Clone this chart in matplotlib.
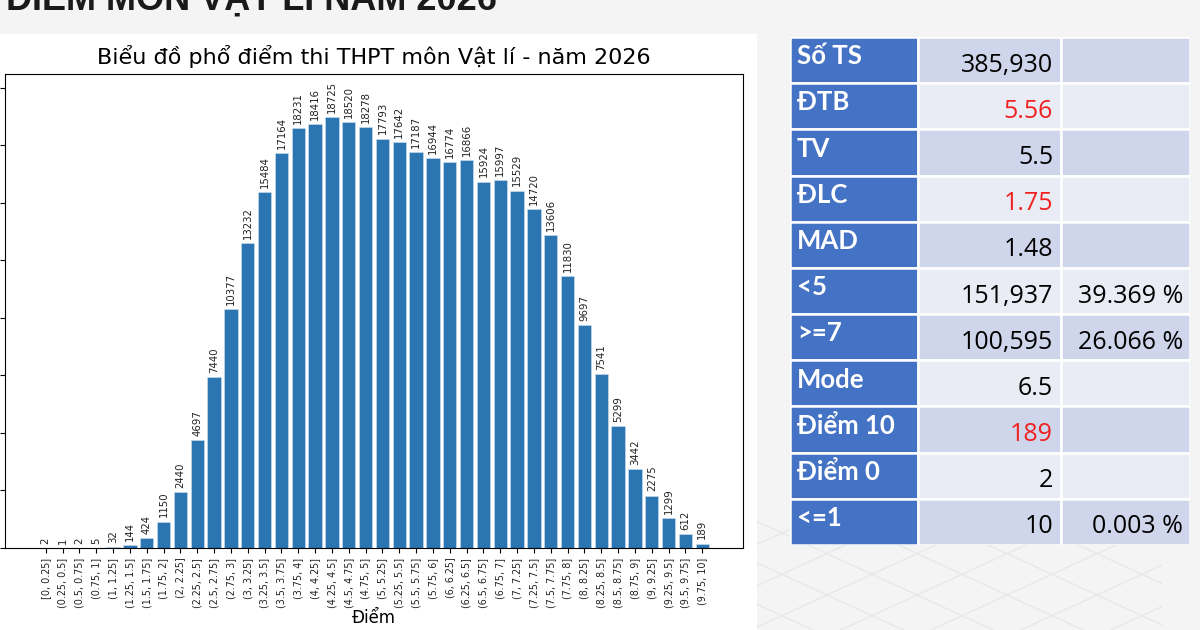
import matplotlib.pyplot as plt
from matplotlib.patches import Rectangle
from matplotlib.lines import Line2D

# Dữ liệu phổ điểm
bins = ["[0, 0.25]", "(0.25, 0.5]", "(0.5, 0.75]", "(0.75, 1]", "(1, 1.25]",
        "(1.25, 1.5]", "(1.5, 1.75]", "(1.75, 2]", "(2, 2.25]", "(2.25, 2.5]",
        "(2.5, 2.75]", "(2.75, 3]", "(3, 3.25]", "(3.25, 3.5]", "(3.5, 3.75]",
        "(3.75, 4]", "(4, 4.25]", "(4.25, 4.5]", "(4.5, 4.75]", "(4.75, 5]",
        "(5, 5.25]", "(5.25, 5.5]", "(5.5, 5.75]", "(5.75, 6]", "(6, 6.25]",
        "(6.25, 6.5]", "(6.5, 6.75]", "(6.75, 7]", "(7, 7.25]", "(7.25, 7.5]",
        "(7.5, 7.75]", "(7.75, 8]", "(8, 8.25]", "(8.25, 8.5]", "(8.5, 8.75]",
        "(8.75, 9]", "(9, 9.25]", "(9.25, 9.5]", "(9.5, 9.75]", "(9.75, 10]"]
counts = [2, 1, 2, 5, 32, 144, 424, 1150, 2440, 4697,
          7440, 10377, 13232, 15484, 17164, 18231, 18416, 18725, 18520, 18278,
          17793, 17642, 17187, 16944, 16774, 16866, 15924, 15997, 15529, 14720,
          13606, 11830, 9697, 7541, 5299, 3442, 2275, 1299, 612, 189]

# Bảng thống kê
stat_names = ["Số TS", "ĐTB", "TV", "ĐLC", "MAD", "<5", ">=7", "Mode",
              "Điểm 10", "Điểm 0", "<=1"]
stat_values = ["385,930", "5.56", "5.5", "1.75", "1.48", "151,937", "100,595",
               "6.5", "189", "2", "10"]
stat_pcts = ["", "", "", "", "", "39.369 %", "26.066 %", "", "", "", "0.003 %"]
red_rows = ["ĐTB", "ĐLC", "Điểm 10"]

W, H = 1200, 630
fig = plt.figure(figsize=(12, 6.3), dpi=100, facecolor="#f4f4f4")

# nền trang trí (lưới mờ góc dưới phải)
clip = Rectangle((757 / W, 0), 405 / W, 125 / H, transform=fig.transFigure)
for k in range(-6, 10):
    x0 = 757 + k * 90
    for y_a, y_b in ((150, -80), (-80, 150)):
        ln = Line2D([x0 / W, (x0 + 500) / W], [y_a / H, y_b / H],
                    transform=fig.transFigure, color="#e8e8e8", lw=1.0, zorder=-2)
        ln.set_clip_path(clip)
        fig.lines.append(ln)

# khung trắng chứa biểu đồ
fig.patches.append(Rectangle((0, 0), 757 / W, (H - 34) / H, transform=fig.transFigure,
                             facecolor="white", edgecolor="none", zorder=-1))

# tiêu đề lớn bị cắt ở mép trên
fig.text(497 / W, (H - 10) / H, "ĐIỂM MÔN VẬT LÍ NĂM 2026", ha="right", va="baseline",
         fontsize=26, fontweight="bold", family="Liberation Sans", color="#1a1a1a")

ax = fig.add_axes([5 / W, (H - 548) / H, 738 / W, 474 / H])
x = range(len(counts))
bars = ax.bar(x, counts, width=0.8, color="#2a75b2", edgecolor="#cfe0ef", linewidth=0.4)
ax.bar_label(bars, labels=[str(c) for c in counts], padding=3, rotation=90, fontsize=7.3,
             color="#222222")
ax.set_xticks(list(x))
ax.set_xticklabels(bins, rotation=90, fontsize=6.9, color="#222222")
ax.set_xlim(-2.42, 41.42)
ax.set_ylim(0, max(counts) * 1.1)
ax.tick_params(axis="y", labelleft=False)
ax.set_title("Biểu đồ phổ điểm thi THPT môn Vật lí - năm 2026", fontsize=16, pad=7)
ax.set_xlabel("Điểm", fontsize=12, labelpad=1)

# bảng bên phải
tb = fig.add_axes([790 / W, (H - 545) / H, 400 / W, 508 / H])
tb.set_xlim(0, 400)
tb.set_ylim(len(stat_names), 0)
tb.axis("off")
col_edges = [0, 128, 271, 400]
for i, name in enumerate(stat_names):
    light = "#cfd5ea" if i % 2 == 0 else "#e9ebf5"
    fills = ["#4472c4", light, light]
    for j in range(3):
        tb.add_patch(Rectangle((col_edges[j], i), col_edges[j + 1] - col_edges[j], 1,
                               facecolor=fills[j], edgecolor="white", linewidth=1.8))
    tb.text(7, i + 0.59, name, ha="left", va="baseline", fontsize=18.5, color="white",
            fontweight="bold", family="Lato")
    tb.text(263, i + 0.75, stat_values[i], ha="right", va="baseline", fontsize=18,
            color="#f02020" if name in red_rows else "black", family="Open Sans")
    if stat_pcts[i]:
        tb.text(393, i + 0.75, stat_pcts[i], ha="right", va="baseline", fontsize=18,
                color="black", family="Open Sans")

fig.savefig("out.png", dpi=100, facecolor=fig.get_facecolor())
